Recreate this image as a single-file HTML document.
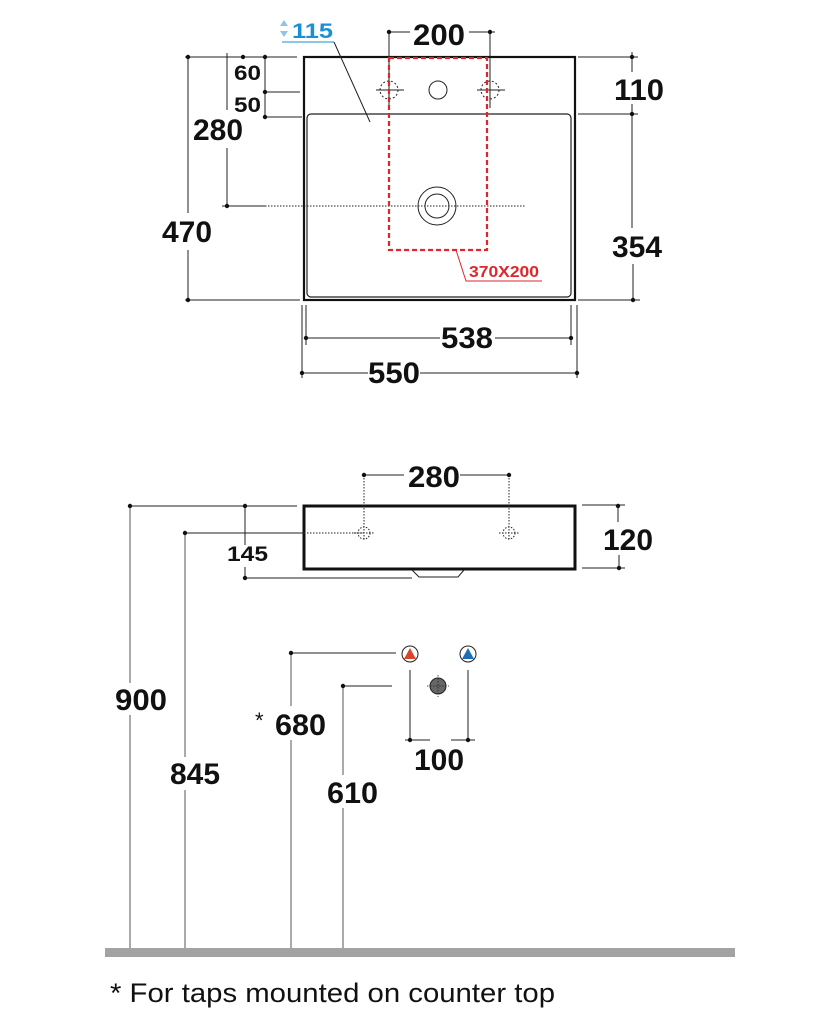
<!DOCTYPE html>
<html><head><meta charset="utf-8"><style>
html,body{margin:0;padding:0;background:#fff;}
svg{display:block;}
text{font-family:"Liberation Sans",sans-serif;}
.n{font-weight:bold;font-size:30px;fill:#111;}
.s{font-weight:bold;font-size:21px;fill:#111;}
</style></head><body>
<svg width="820" height="1019" viewBox="0 0 820 1019" xmlns="http://www.w3.org/2000/svg">
<g stroke="#222" stroke-width="1" fill="none">
<!-- TOP VIEW -->
<rect x="304" y="57" width="271" height="243" stroke-width="2.2" stroke="#111"/>
<rect x="307" y="114" width="264" height="183" rx="4" stroke-width="1.2"/>
<circle cx="438" cy="90" r="9"/>
<circle cx="437" cy="206" r="19"/>
<circle cx="437" cy="206" r="12"/>
<circle cx="389" cy="90" r="9" stroke-dasharray="2,2"/>
<circle cx="490" cy="90" r="9" stroke-dasharray="2,2"/>
<line x1="376" y1="90" x2="404" y2="90"/><line x1="389" y1="30" x2="389" y2="108"/>
<line x1="477" y1="90" x2="505" y2="90"/><line x1="490" y1="30" x2="490" y2="108"/>
<line x1="389" y1="32" x2="410" y2="32"/><line x1="469" y1="32" x2="495" y2="32"/>
<line x1="265" y1="206" x2="525" y2="206" stroke-dasharray="1.5,1.5"/>
<!-- leader 115 -->
<line x1="282" y1="42" x2="334" y2="42" stroke="#1a8fd6"/>
<line x1="334" y1="42" x2="370" y2="122"/>
<!-- left dims -->
<line x1="185" y1="57" x2="297" y2="57"/>
<line x1="265" y1="92" x2="300" y2="92"/>
<line x1="265" y1="117" x2="302" y2="117"/>
<line x1="265" y1="57" x2="265" y2="117"/>
<line x1="227" y1="53" x2="227" y2="110"/>
<line x1="227" y1="148" x2="227" y2="206"/>
<line x1="222" y1="206" x2="265" y2="206"/>
<line x1="188" y1="57" x2="188" y2="213"/>
<line x1="188" y1="250" x2="188" y2="300"/>
<line x1="185" y1="300" x2="300" y2="300"/>
<!-- right dims -->
<line x1="578" y1="57" x2="638" y2="57"/>
<line x1="578" y1="114" x2="638" y2="114"/>
<line x1="578" y1="300" x2="640" y2="300"/>
<line x1="632" y1="52" x2="632" y2="72"/>
<line x1="632" y1="104" x2="632" y2="228"/>
<line x1="633" y1="264" x2="633" y2="302"/>
<!-- bottom dims -->
<line x1="306" y1="305" x2="306" y2="345"/><line x1="571" y1="305" x2="571" y2="345"/>
<line x1="306" y1="338" x2="440" y2="338"/><line x1="495" y1="338" x2="571" y2="338"/>
<line x1="302" y1="305" x2="302" y2="378"/><line x1="577" y1="305" x2="577" y2="378"/>
<line x1="302" y1="373" x2="368" y2="373"/><line x1="420" y1="373" x2="577" y2="373"/>
</g>
<rect x="389" y="58" width="98" height="192" fill="none" stroke="#e0262b" stroke-width="2.2" stroke-dasharray="5,3"/>
<polyline points="456,250 466,281 542,281" fill="none" stroke="#e0262b" stroke-width="1"/>
<text x="469" y="277" font-size="16" font-weight="bold" fill="#e0262b" textLength="70" lengthAdjust="spacingAndGlyphs">370X200</text>
<polygon points="284,20 288,26 280,26" fill="#8ec4ea"/><polygon points="284,37 288,31 280,31" fill="#8ec4ea"/>
<text x="292" y="38" font-size="21" font-weight="bold" fill="#1a8fd6" textLength="41" lengthAdjust="spacingAndGlyphs">115</text>
<g fill="#111">
<circle cx="389" cy="32" r="2.2"/><circle cx="490" cy="32" r="2.2"/>
<circle cx="243" cy="57" r="2.2"/><circle cx="265" cy="57" r="2.2"/><circle cx="265" cy="92" r="2.2"/><circle cx="265" cy="117" r="2.2"/>
<circle cx="227" cy="206" r="2.2"/><circle cx="188" cy="57" r="2.2"/><circle cx="188" cy="300" r="2.2"/>
<circle cx="632" cy="57" r="2.2"/><circle cx="632" cy="114" r="2.2"/><circle cx="633" cy="300" r="2.2"/>
<circle cx="306" cy="338" r="2.2"/><circle cx="571" cy="338" r="2.2"/>
<circle cx="302" cy="373" r="2.2"/><circle cx="577" cy="373" r="2.2"/>
</g>
<text class="n" x="413" y="45" textLength="52" lengthAdjust="spacingAndGlyphs">200</text>
<text class="s" x="234" y="80" textLength="27" lengthAdjust="spacingAndGlyphs">60</text>
<text class="s" x="234" y="112" textLength="27" lengthAdjust="spacingAndGlyphs">50</text>
<text class="n" x="193" y="140" textLength="50" lengthAdjust="spacingAndGlyphs">280</text>
<text class="n" x="162" y="242" textLength="50" lengthAdjust="spacingAndGlyphs">470</text>
<text class="n" x="614" y="100" textLength="50" lengthAdjust="spacingAndGlyphs">110</text>
<text class="n" x="612" y="257" textLength="50" lengthAdjust="spacingAndGlyphs">354</text>
<text class="n" x="441" y="348" textLength="52" lengthAdjust="spacingAndGlyphs">538</text>
<text class="n" x="368" y="383" textLength="52" lengthAdjust="spacingAndGlyphs">550</text>

<!-- SIDE VIEW -->
<g stroke="#222" stroke-width="1" fill="none">
<rect x="304" y="506" width="271" height="63" stroke-width="3" stroke="#111"/>
<polyline points="412,570 419,577 458,577 464,570"/>
<line x1="364" y1="475" x2="404" y2="475"/><line x1="460" y1="475" x2="509" y2="475"/>
<line x1="364" y1="475" x2="364" y2="540" stroke-dasharray="1.5,1.5"/>
<line x1="509" y1="475" x2="509" y2="540" stroke-dasharray="1.5,1.5"/>
<circle cx="364" cy="533" r="6" stroke-dasharray="1.5,1.5"/><circle cx="509" cy="533" r="6" stroke-dasharray="1.5,1.5"/>
<line x1="354" y1="533" x2="374" y2="533" stroke-dasharray="1.5,1.5"/><line x1="499" y1="533" x2="519" y2="533" stroke-dasharray="1.5,1.5"/>
<line x1="304" y1="533" x2="364" y2="533" stroke-dasharray="1.5,1.5"/>
<line x1="130" y1="506" x2="297" y2="506"/>
<line x1="185" y1="533" x2="304" y2="533"/>
<line x1="245" y1="506" x2="245" y2="545"/><line x1="245" y1="567" x2="245" y2="580"/>
<line x1="245" y1="578" x2="412" y2="578"/>
<line x1="582" y1="505" x2="625" y2="505"/><line x1="582" y1="568" x2="625" y2="568"/>
<line x1="618" y1="505" x2="618" y2="522"/><line x1="619" y1="555" x2="619" y2="570"/>
<g stroke="#555">
<line x1="130" y1="506" x2="130" y2="683"/><line x1="130" y1="715" x2="130" y2="950"/>
<line x1="185" y1="533" x2="185" y2="757"/><line x1="185" y1="790" x2="185" y2="950"/>
<line x1="291" y1="653" x2="291" y2="706"/><line x1="291" y1="740" x2="291" y2="950"/>
<line x1="343" y1="686" x2="343" y2="775"/><line x1="343" y1="808" x2="343" y2="950"/>
</g>
<line x1="291" y1="653" x2="396" y2="653"/>
<line x1="343" y1="686" x2="392" y2="686"/>
<line x1="410" y1="670" x2="410" y2="740"/><line x1="468" y1="670" x2="468" y2="740"/>
<line x1="405" y1="740" x2="430" y2="740"/><line x1="451" y1="740" x2="475" y2="740"/>
</g>
<circle cx="410" cy="654" r="8" fill="#fff" stroke="#222"/>
<polygon points="410,648 416,659 404,659" fill="#d9442b"/>
<circle cx="468" cy="654" r="8" fill="#fff" stroke="#222"/>
<polygon points="468,648 474,659 462,659" fill="#1a6fb8"/>
<circle cx="438" cy="686" r="8" fill="#666" stroke="#222"/>
<g stroke="#222" stroke-width="0.8" stroke-dasharray="1.5,1.5"><line x1="427" y1="686" x2="449" y2="686"/><line x1="438" y1="675" x2="438" y2="697"/></g>
<g fill="#111">
<circle cx="364" cy="475" r="2.2"/><circle cx="509" cy="475" r="2.2"/>
<circle cx="130" cy="506" r="2.2"/><circle cx="245" cy="506" r="2.2"/><circle cx="245" cy="578" r="2.2"/><circle cx="185" cy="533" r="2.2"/>
<circle cx="618" cy="506" r="2.2"/><circle cx="619" cy="568" r="2.2"/>
<circle cx="291" cy="653" r="2.2"/><circle cx="343" cy="686" r="2.2"/>
<circle cx="410" cy="740" r="2.2"/><circle cx="468" cy="740" r="2.2"/>
</g>
<text class="n" x="408" y="487" textLength="52" lengthAdjust="spacingAndGlyphs">280</text>
<text class="s" x="227" y="561" textLength="41" lengthAdjust="spacingAndGlyphs">145</text>
<text class="n" x="603" y="550" textLength="50" lengthAdjust="spacingAndGlyphs">120</text>
<text class="n" x="115" y="710" textLength="52" lengthAdjust="spacingAndGlyphs">900</text>
<text class="n" x="170" y="784" textLength="50" lengthAdjust="spacingAndGlyphs">845</text>
<text x="255" y="728" font-size="22" fill="#111">*</text>
<text class="n" x="275" y="735" textLength="51" lengthAdjust="spacingAndGlyphs">680</text>
<text class="n" x="327" y="803" textLength="51" lengthAdjust="spacingAndGlyphs">610</text>
<text class="n" x="414" y="770" textLength="50" lengthAdjust="spacingAndGlyphs">100</text>
<rect x="105" y="948" width="630" height="9" fill="#a3a3a3"/>
<text x="110" y="1002" font-size="27" fill="#111" textLength="445" lengthAdjust="spacingAndGlyphs">* For taps mounted on counter top</text>
</svg>
</body></html>
